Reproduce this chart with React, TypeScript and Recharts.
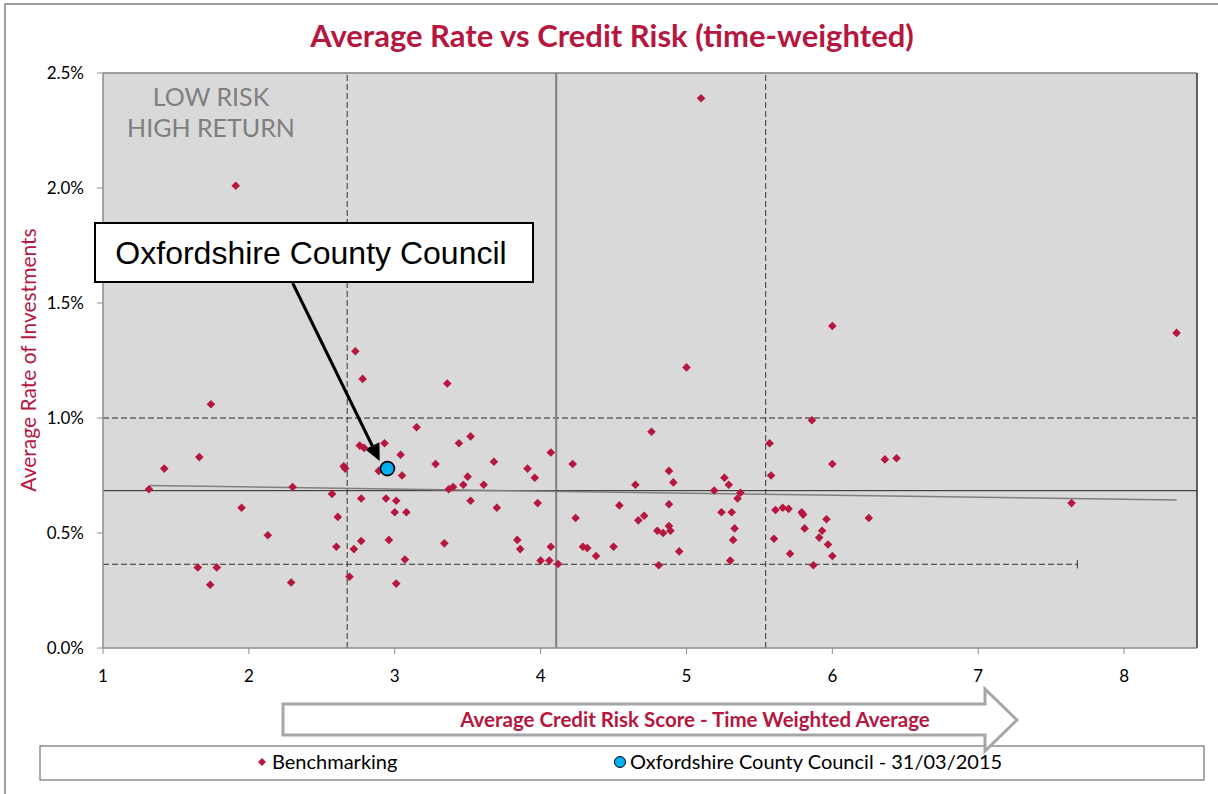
import React from 'react';
import { ScatterChart, Scatter, XAxis, YAxis, ReferenceLine, ReferenceArea } from 'recharts';

const CRIMSON = '#B5173F';
const BLUE = '#00B0F0';

const benchX = [
  5.10, 1.91, 2.73, 2.78, 1.74, 3.36, 3.15, 2.76, 2.79, 2.93,
  3.04, 3.44, 3.52, 3.28, 3.68, 4.07, 3.91, 3.96, 4.22, 3.05,
  2.89, 1.66, 1.42, 2.65, 2.66, 1.315, 2.30, 2.57, 2.77, 2.94,
  3.01, 3.00, 3.08, 1.95, 2.61, 2.13, 2.77, 2.96, 2.60, 2.72,
  1.65, 1.78, 1.735, 2.29, 2.69, 3.01, 3.07, 3.37, 3.40, 3.47,
  3.50, 3.61, 3.52, 3.70, 3.98, 3.34, 3.84, 3.86, 4.07, 4.00,
  4.06, 4.12, 4.24, 4.29, 4.32, 4.38, 4.50, 4.54, 4.65, 4.76,
  4.67, 4.71, 4.80, 4.84, 4.88, 4.91, 4.88, 4.88, 4.89, 4.81,
  4.95, 5.00, 6.00, 5.86, 5.57, 5.58, 6.00, 6.36, 6.44, 5.19,
  5.26, 5.29, 5.37, 5.35, 5.24, 5.31, 5.33, 5.32, 5.30, 5.61,
  5.66, 5.70, 5.79, 5.80, 5.96, 5.81, 5.93, 5.91, 5.97, 6.00,
  5.71, 5.60, 5.87, 6.25, 8.36, 7.64,
];
const benchY = [
  2.39, 2.01, 1.29, 1.17, 1.06, 1.15, 0.96, 0.88, 0.87, 0.89,
  0.84, 0.89, 0.92, 0.80, 0.81, 0.85, 0.78, 0.74, 0.80, 0.75,
  0.77, 0.83, 0.78, 0.79, 0.78, 0.69, 0.70, 0.67, 0.65, 0.65,
  0.64, 0.59, 0.59, 0.61, 0.57, 0.49, 0.465, 0.47, 0.44, 0.43,
  0.35, 0.35, 0.275, 0.285, 0.31, 0.28, 0.385, 0.69, 0.70, 0.71,
  0.745, 0.71, 0.64, 0.61, 0.63, 0.455, 0.47, 0.43, 0.44, 0.38,
  0.38, 0.365, 0.565, 0.44, 0.435, 0.40, 0.44, 0.62, 0.71, 0.94,
  0.555, 0.575, 0.51, 0.50, 0.77, 0.72, 0.625, 0.53, 0.51, 0.36,
  0.42, 1.22, 1.40, 0.99, 0.89, 0.75, 0.80, 0.82, 0.825, 0.685,
  0.74, 0.71, 0.675, 0.65, 0.59, 0.59, 0.52, 0.47, 0.38, 0.60,
  0.61, 0.605, 0.59, 0.58, 0.56, 0.52, 0.51, 0.48, 0.45, 0.40,
  0.41, 0.475, 0.36, 0.565, 1.37, 0.63,
];
const oxX = [2.95];
const oxY = [0.78];

const xTicks = [1, 2, 3, 4, 5, 6, 7, 8];
const yTicks = [0, 0.5, 1, 1.5, 2, 2.5];

// reference / quadrant lines (x = credit score, y = rate %)
const vDashed = [2.674, 5.543];
const vSolid = 4.107;
const hUpper = 1.0;
const hMean = 0.684;
const hLower = 0.364;
const hLowerEnd = 7.68;
const trendStart = { x: 1.32, y: 0.706 };
const trendEnd = { x: 8.36, y: 0.643 };
const arrowFrom = { x: 2.30, y: 1.587 };
const arrowTo = { x: 2.897, y: 0.813 };

const benchData = benchX.map((x, i) => ({ x, y: benchY[i] }));
const oxData = oxX.map((x, i) => ({ x, y: oxY[i] }));

const Diamond = (props: any) => {
  const { cx, cy } = props;
  if (cx == null || cy == null) return null;
  const r = 4.3;
  return (
    <polygon
      points={`${cx},${cy - r} ${cx + r},${cy} ${cx},${cy + r} ${cx - r},${cy}`}
      fill={CRIMSON}
    />
  );
};

const Dot = (props: any) => {
  const { cx, cy } = props;
  if (cx == null || cy == null) return null;
  return <circle cx={cx} cy={cy} r={7} fill={BLUE} stroke="#000" strokeWidth={1.6} />;
};

const ArrowShape = (props: any) => {
  const { x1, y1, x2, y2 } = props;
  if ([x1, y1, x2, y2].some((v) => v == null || isNaN(v))) return null;
  const dx = x2 - x1;
  const dy = y2 - y1;
  const len = Math.sqrt(dx * dx + dy * dy);
  const ux = dx / len;
  const uy = dy / len;
  const headLen = 17;
  const headW = 8;
  const bx = x2 - ux * headLen;
  const by = y2 - uy * headLen;
  const px = -uy;
  const py = ux;
  return (
    <g>
      <line x1={x1} y1={y1} x2={bx} y2={by} stroke="#000" strokeWidth={3} />
      <polygon
        points={`${x2},${y2} ${bx + px * headW},${by + py * headW} ${bx - px * headW},${by - py * headW}`}
        fill="#000"
      />
    </g>
  );
};

const fmtPct = (v: number) => `${v.toFixed(1)}%`;

export default function App() {
  const W = 1218;
  const H = 794;
  return (
    <div
      style={{
        position: 'absolute',
        left: 0,
        top: 0,
        width: W,
        height: H,
        background: '#fff',
        fontFamily: 'Lato, "Open Sans", sans-serif',
        overflow: 'hidden',
      }}
    >
      <ScatterChart
        width={W}
        height={H}
        margin={{ top: 73, right: 21, bottom: 116, left: 43 }}
      >
        <XAxis
          type="number"
          dataKey="x"
          domain={[1, 8.5]}
          ticks={xTicks}
          allowDataOverflow
          height={30}
          tickSize={6}
          tickMargin={16}
          tick={{ fill: '#000', fontSize: 17, fontFamily: 'Lato' }}
          axisLine={{ stroke: '#8c8c8c', strokeWidth: 1.5 }}
          tickLine={{ stroke: '#8c8c8c' }}
        />
        <YAxis
          type="number"
          dataKey="y"
          domain={[0, 2.5]}
          ticks={yTicks}
          allowDataOverflow
          width={60}
          tickSize={6}
          tickMargin={13}
          tickFormatter={fmtPct}
          tick={{ fill: '#000', fontSize: 17, fontFamily: 'Lato' }}
          axisLine={{ stroke: '#8c8c8c', strokeWidth: 1.5 }}
          tickLine={{ stroke: '#8c8c8c' }}
        />
        <ReferenceArea x1={1} x2={8.5} y1={0} y2={2.5} fill="#D9D9D9" fillOpacity={1} stroke="none" />
        <ReferenceLine y={2.5} stroke="#808080" strokeWidth={1.5} />
        <ReferenceLine x={8.5} stroke="#333" strokeWidth={1.5} />
        <ReferenceLine y={hUpper} stroke="#808080" strokeWidth={2} strokeDasharray="6 3" />
        {vDashed.map((v) => (
          <ReferenceLine key={v} x={v} stroke="#333" strokeWidth={1} strokeDasharray="6 3" />
        ))}
        <ReferenceLine x={vSolid} stroke="#808080" strokeWidth={2} />
        <ReferenceLine y={hMean} stroke="#222" strokeWidth={1} />
        <ReferenceLine
          segment={[{ x: 1, y: hLower }, { x: hLowerEnd, y: hLower }]}
          stroke="#333"
          strokeWidth={1}
          strokeDasharray="6 3"
        />
        <ReferenceLine
          segment={[{ x: hLowerEnd, y: hLower - 0.018 }, { x: hLowerEnd, y: hLower + 0.018 }]}
          stroke="#333"
          strokeWidth={1}
        />
        <ReferenceLine
          segment={[trendStart, trendEnd]}
          stroke="#7F7F7F"
          strokeWidth={1.5}
        />
        <Scatter
          name="Benchmarking"
          data={benchData}
          shape={<Diamond />}
          isAnimationActive={false}
        />
        <ReferenceLine segment={[arrowFrom, arrowTo]} shape={ArrowShape} />
        <Scatter
          name="Oxfordshire County Council - 31/03/2015"
          data={oxData}
          shape={<Dot />}
          isAnimationActive={false}
        />
      </ScatterChart>

      <svg
        width={W}
        height={H}
        style={{ position: 'absolute', left: 0, top: 0, pointerEvents: 'none' }}
      >
        {/* outer frame */}
        <rect x={5} y={4} width={W} height={H} fill="none" stroke="#808080" strokeWidth={1.5} />
        {/* title */}
        <text
          x={612}
          y={47}
          textAnchor="middle"
          fill={CRIMSON}
          fontSize={31}
          fontWeight="bold"
          fontFamily="Lato"
        >
          Average Rate vs Credit Risk (time-weighted)
        </text>
        {/* y-axis label */}
        <text
          x={36}
          y={360}
          transform="rotate(-90 36 360)"
          textAnchor="middle"
          fill={CRIMSON}
          fontSize={21}
          fontFamily="Lato"
        >
          Average Rate of Investments
        </text>
        {/* quadrant label */}
        <text x={211} y={106} textAnchor="middle" fill="#7F7F7F" fontSize={25} fontFamily="Lato">
          LOW RISK
        </text>
        <text x={211} y={137} textAnchor="middle" fill="#7F7F7F" fontSize={25} fontFamily="Lato">
          HIGH RETURN
        </text>
        {/* annotation box */}
        <rect x={95} y={223} width={438} height={59} fill="#fff" stroke="#000" strokeWidth={2} />
        <text x={311} y={264} textAnchor="middle" fill="#000" fontSize={32} fontFamily="Liberation Sans, Arial">
          Oxfordshire County Council
        </text>
        {/* legend box */}
        <rect x={40} y={746} width={1164} height={34} fill="#fff" stroke="#555" strokeWidth={1} />
        <polygon points="262,758 266,762 262,766 258,762" fill={CRIMSON} />
        <text x={272} y={769} fill="#000" fontSize={20} fontFamily="Lato">
          Benchmarking
        </text>
        <circle cx={620} cy={762} r={5.5} fill={BLUE} stroke="#000" strokeWidth={1} />
        <text x={630} y={769} fill="#000" fontSize={20} fontFamily="Lato">
          Oxfordshire County Council - 31/03/2015
        </text>
        {/* x-axis title arrow */}
        <polygon
          points="283,704 985,704 985,689 1017,720 985,751 985,735 283,735"
          fill="#fff"
          stroke="#A6A6A6"
          strokeWidth={3}
        />
        <text
          x={695}
          y={727}
          textAnchor="middle"
          fill={CRIMSON}
          fontSize={20.5}
          fontWeight="bold"
          fontFamily="Lato"
        >
          Average Credit Risk Score - Time Weighted Average
        </text>
      </svg>
    </div>
  );
}
